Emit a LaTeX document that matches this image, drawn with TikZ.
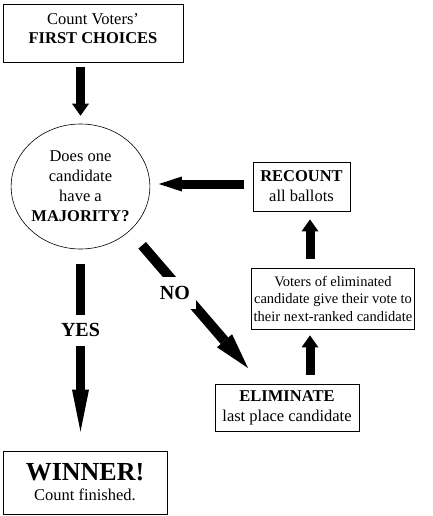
\documentclass[tikz,border=0pt]{standalone}
\usepackage{fontspec}
\setmainfont{Liberation Serif}
\usetikzlibrary{arrows.meta,shapes.geometric}
\tikzset{
  box/.style={draw, line width=0.8pt, align=center, inner sep=2pt,
    font=\rmfamily\fontsize{16.5}{20}\selectfont},
  fat/.style={line width=9pt, -{Triangle[length=12pt, width=17pt, line width=0pt]}},
  yn/.style={fill=white, font=\rmfamily\fontsize{20}{24}\selectfont\bfseries},
}

\begin{document}
\begin{tikzpicture}[x=1pt, y=-1pt]
  \useasboundingbox[fill=white] (0,0) rectangle (432,516);

  \node[box, minimum width=180pt, minimum height=58pt, text depth=9pt] (first) at (93,33)
    {Count Voters'\\[-1pt]\textbf{FIRST CHOICES}};
  \node[box, ellipse, line width=0.6pt, minimum width=135pt, minimum height=125pt,
    inner sep=0pt] (maj) at (80.5,186.5)
    {Does one\\candidate\\have a\\\textbf{MAJORITY?}};
  \node[box, minimum width=97pt, minimum height=49pt] (rec) at (301.5,186.5)
    {\textbf{RECOUNT}\\all ballots};
  \node[box, minimum width=160pt, minimum height=61pt,
    font=\rmfamily\fontsize{14.5}{17.5}\selectfont] (pass) at (333,298.5)
    {Voters of eliminated\\candidate give their vote to\\their next-ranked candidate};
  \node[box, minimum width=144pt, minimum height=47pt] (elim) at (287,407.5)
    {\textbf{ELIMINATE}\\last place candidate};
  \node[box, minimum width=164pt, minimum height=63pt] (win) at (85,482.5)
    {{\fontsize{26}{28}\selectfont\textbf{WINNER!}}\\Count finished.};

  \draw[fat, shorten <=5pt, shorten >=8pt] (first.south -| maj.north) -- (maj.north);
  \draw[fat, -{Triangle[length=23pt, width=15pt, line width=0pt]},
    shorten <=9pt, shorten >=8.7pt] ([yshift=2.5pt]rec.west) -- ([yshift=2.5pt]maj.east);

  % the two answers
  \draw[fat, -{Triangle[length=42pt, width=17pt, line width=0pt]},
    shorten <=15pt, shorten >=19pt]
    (maj.south) -- node[yn, pos=.403, minimum height=31pt] {YES} (win.north -| maj.south);
  \coordinate (notip) at (248,368);
  \draw[fat, line width=10pt, -{Triangle[length=36pt, width=20pt, line width=0pt]},
    shorten <=19pt]
    (maj.south east) -- node[yn, pos=.45, xshift=-8pt, minimum width=42pt,
      minimum height=32pt] {NO} (notip);

  \draw[fat, shorten <=9pt, shorten >=6pt] ([xshift=23pt]elim.north) -- ([xshift=-23pt]pass.south);
  \draw[fat, shorten <=9pt, shorten >=8pt] ([xshift=-23pt]pass.north) -- ([xshift=8.5pt]rec.south);
\end{tikzpicture}
\end{document}
